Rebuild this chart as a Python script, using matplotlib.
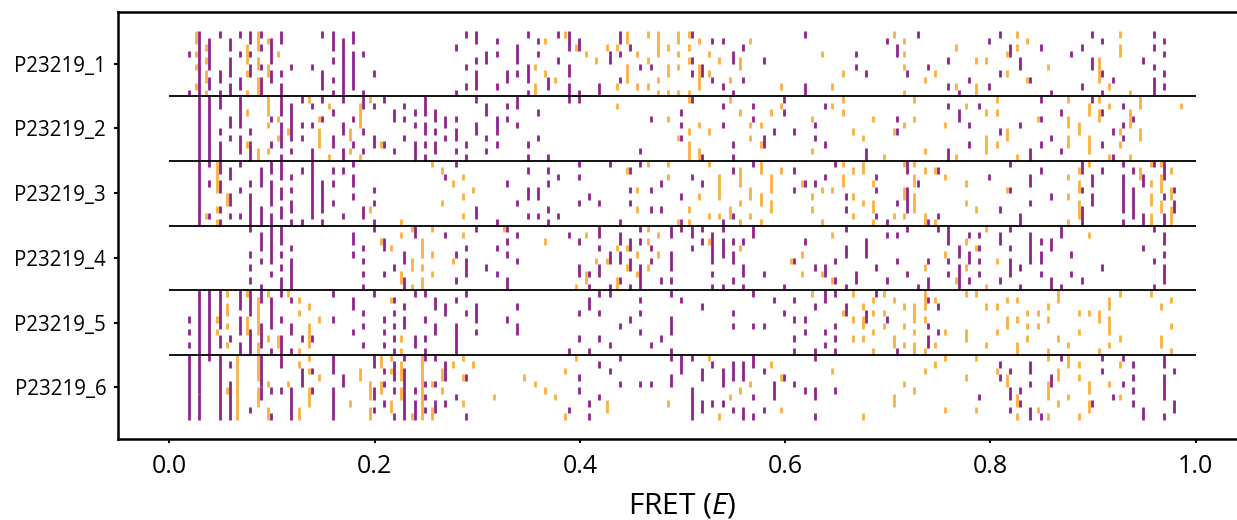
import matplotlib
matplotlib.use('Agg')
import matplotlib.pyplot as plt

# FRET values sit on a 0.01 grid, each row holds 10 repeat lanes
# every mark is (bin, first lane, last lane)
row_labels = ['P23219_1', 'P23219_2', 'P23219_3', 'P23219_4', 'P23219_5', 'P23219_6']
x_ticks = [0.0, 0.2, 0.4, 0.6, 0.8, 1.0]

row1_purple = [
    (1,3,3),(1,9,9),(2,0,9),(3,1,5),(3,7,8),(4,0,0),(4,6,7),(4,9,9),(5,1,2),(5,4,6),(5,8,9),
    (6,0,0),(6,3,3),(6,7,8),(7,0,1),(7,3,3),(7,5,6),(8,0,0),(8,2,2),(8,5,5),(8,7,9),(9,1,4),(9,6,7),
    (10,0,1),(10,6,6),(10,8,9),(11,5,5),(13,5,5),(14,0,0),(14,6,8),(15,0,2),(15,4,4),(15,7,7),(15,9,9),
    (16,1,9),(17,0,1),(17,3,8),(18,3,3),(18,9,9),(19,6,6),(27,2,2),(27,9,9),(28,0,0),(28,5,5),(28,8,8),
    (29,0,1),(29,4,4),(29,6,8),(30,3,4),(31,1,1),(31,3,3),(31,8,8),(32,6,7),(33,2,4),(33,6,6),
    (34,0,0),(34,5,7),(34,9,9),(35,1,1),(35,3,3),(36,7,8),(37,0,0),(37,4,4),(38,0,2),(38,5,6),(38,8,9),
    (39,1,2),(39,9,9),(41,8,9),(42,3,4),(43,0,1),(43,3,3),(43,7,7),(44,2,2),(45,5,5),(46,5,5),
    (50,0,0),(50,4,4),(50,6,6),(51,5,6),(52,1,1),(52,7,7),(53,1,1),(53,8,8),(54,3,4),(54,9,9),(55,2,2),(55,7,7),
    (57,4,4),(61,0,0),(61,8,9),(66,3,3),(66,5,5),(67,6,6),(69,1,1),(70,2,3),(71,6,6),(72,0,0),(73,5,5),
    (75,4,4),(75,8,8),(76,9,9),(77,7,7),(79,1,1),(79,8,8),(80,0,0),(80,6,6),(81,2,3),(82,4,5),(83,7,7),
    (84,2,2),(85,9,9),(87,3,3),(88,2,2),(88,8,8),(89,0,0),(89,4,5),(90,1,1),(90,6,6),(90,9,9),(91,7,7),
    (94,4,4),(95,0,0),(95,2,2),(95,5,5),(95,7,9),(96,1,1),(96,3,3),(96,6,6),(96,8,8),
]
row1_orange = [
    (2,0,1),(2,3,3),(2,5,5),(2,8,8),(3,2,2),(3,4,4),(3,6,7),(3,9,9),(7,2,4),(7,6,6),(7,9,9),
    (8,0,2),(8,4,5),(8,7,9),(9,1,1),(9,5,6),(10,3,3),(35,5,5),(35,8,9),(36,1,1),(36,6,6),(37,7,7),
    (38,0,0),(39,2,2),(40,3,3),(41,4,4),(42,2,2),(43,2,2),(43,8,8),(44,0,1),(44,5,7),(45,3,3),(45,8,8),
    (46,0,0),(46,4,4),(46,8,8),(47,0,3),(47,7,7),(47,9,9),(48,2,2),(48,5,6),(48,9,9),(49,0,1),(49,3,3),
    (49,5,5),(49,9,9),(50,0,0),(50,2,2),(50,4,4),(50,9,9),(51,1,1),(51,5,8),(52,3,3),(52,6,6),(53,4,4),
    (54,7,7),(55,4,5),(56,1,1),(59,8,8),(63,3,3),(64,8,8),(65,6,6),(70,0,0),(71,1,1),(71,3,3),(71,5,5),(71,9,9),
    (73,7,7),(74,6,6),(76,2,2),(76,8,8),(78,4,4),(78,8,9),(79,4,4),(81,3,3),(81,6,6),(82,0,0),(82,2,2),
    (83,1,1),(83,7,7),(85,5,5),(90,4,7),(91,8,8),(92,0,0),(92,2,3),(93,9,9),
]
row2_purple = [
    (2,0,9),(3,0,9),(4,0,1),(4,5,5),(4,7,9),(5,3,4),(5,6,6),(6,0,4),(6,6,8),(7,5,5),(7,7,9),
    (9,3,3),(9,7,7),(10,0,2),(10,4,7),(10,9,9),(11,1,6),(11,8,8),(12,0,0),(12,4,4),(12,6,6),
    (13,1,1),(13,4,4),(13,8,9),(14,0,0),(14,3,3),(15,2,2),(15,6,7),(16,0,0),(16,4,5),(16,8,9),
    (17,3,3),(17,7,7),(18,0,1),(18,5,5),(18,8,8),(19,1,1),(19,6,7),(20,0,0),(20,7,7),(21,2,3),(21,8,8),
    (22,1,1),(22,3,3),(22,6,6),(23,2,2),(23,4,4),(23,7,9),(24,0,2),(24,4,5),(24,7,7),(24,9,9),
    (25,2,3),(25,5,5),(25,7,8),(26,3,4),(26,6,6),(27,3,3),(27,5,6),(27,8,8),(28,7,7),(28,9,9),
    (29,0,0),(29,4,5),(30,1,2),(30,6,6),(30,8,8),(31,3,5),(31,7,7),(32,1,1),(32,3,3),(33,0,1),(33,4,4),
    (34,7,7),(34,9,9),(35,2,2),(35,6,6),(36,9,9),(38,0,0),(39,0,0),(45,8,8),(46,3,3),
    (49,2,2),(49,4,4),(49,6,6),(50,0,0),(51,9,9),(53,1,1),(53,4,4),(54,7,7),(54,9,9),(56,1,1),(56,3,3),
    (57,6,7),(58,5,5),(59,0,0),(59,2,2),(60,5,5),(62,4,4),(62,6,6),(63,1,1),(63,7,7),(67,8,9),
    (70,3,3),(70,5,5),(75,1,1),(75,8,9),(76,2,3),(77,4,4),(77,7,7),(78,1,1),(80,5,5),(82,4,4),
    (83,8,9),(84,0,0),(84,3,3),(84,7,7),(85,6,6),(86,2,2),(86,8,8),(89,0,0),(90,2,2),(90,7,7),
    (91,5,5),(91,9,9),(92,1,1),(92,4,4),(92,6,6),(93,3,3),
]
row2_orange = [
    (7,2,2),(7,7,7),(8,8,9),(9,0,2),(9,4,4),(9,8,8),(10,3,3),(10,6,6),(11,5,5),(13,0,0),
    (14,3,3),(14,5,7),(15,1,1),(15,9,9),(17,5,6),(17,8,8),(18,1,4),(18,9,9),(19,0,0),(20,7,7),
    (43,1,1),(48,3,3),(49,6,6),(50,0,0),(50,5,5),(50,7,9),(51,4,4),(51,8,9),(52,5,5),(54,0,0),
    (55,2,2),(56,4,4),(56,6,6),(57,4,4),(57,7,7),(58,2,2),(59,1,1),(62,3,3),(62,8,8),(64,1,1),
    (65,0,0),(65,2,2),(66,5,5),(67,6,6),(68,3,3),(69,9,9),(70,5,5),(71,4,4),(72,0,0),(72,3,3),
    (73,8,8),(75,4,4),(76,9,9),(77,1,1),(79,2,2),(79,6,8),(80,0,0),(80,2,2),(80,7,7),(81,5,6),
    (82,9,9),(84,3,3),(87,0,0),(87,3,4),(87,6,7),(88,4,5),(89,1,2),(89,6,8),(90,0,0),(90,2,3),
    (91,1,1),(91,9,9),(92,5,5),(92,7,7),(93,2,4),(93,9,9),(94,0,1),(94,5,6),(98,1,1),
]
row3_purple = [
    (2,0,9),(3,0,0),(3,3,3),(3,8,8),(4,0,1),(4,3,4),(4,7,7),(4,9,9),(5,1,2),(5,5,6),(5,8,8),
    (6,0,0),(6,4,4),(6,8,8),(7,3,3),(7,5,9),(8,1,3),(8,7,9),(9,0,1),(9,3,6),(9,8,9),(10,0,2),(10,4,5),(10,7,8),
    (11,2,2),(11,4,4),(11,6,7),(11,9,9),(12,1,1),(12,9,9),(13,0,8),(14,3,7),(14,9,9),(15,1,1),(15,3,3),(15,6,6),
    (16,1,1),(16,8,8),(17,0,0),(17,2,3),(17,5,5),(18,7,8),(19,4,4),(19,6,6),(19,9,9),(26,2,2),(27,0,0),
    (29,7,8),(31,9,9),(32,3,3),(33,6,6),(34,1,1),(34,4,5),(34,8,8),(35,4,5),(35,8,8),(36,1,1),(36,3,3),(36,7,7),(36,9,9),
    (37,2,2),(37,8,8),(39,0,0),(39,2,2),(39,6,6),(40,5,5),(41,6,6),(42,0,0),(43,9,9),(44,1,1),(44,4,4),(44,6,6),
    (45,0,0),(46,4,4),(46,7,7),(47,3,3),(47,7,7),(49,5,5),(49,9,9),
    (50,2,2),(51,3,3),(53,9,9),(54,1,1),(54,8,8),(56,0,0),(60,1,1),(60,4,4),(61,3,3),(62,3,3),(63,2,2),
    (64,0,0),(65,5,5),(65,7,7),(68,2,2),(68,4,4),(68,8,8),(69,9,9),(70,6,6),(71,0,1),(71,4,7),(72,3,3),
    (73,9,9),(74,1,1),(74,8,8),(79,2,2),(80,7,7),(81,0,0),(81,4,4),(82,8,9),(83,2,3),(83,6,6),(84,1,1),(85,5,5),
    (88,0,1),(88,4,4),(88,7,9),(89,2,3),(89,5,6),(90,1,1),(92,0,0),(92,2,7),(92,9,9),(93,1,1),(93,4,8),
    (94,2,3),(94,8,9),(95,0,0),(96,0,2),(96,5,5),(96,8,9),(97,4,4),(97,6,7),
]
row3_orange = [
    (3,8,8),(4,0,4),(4,7,7),(4,9,9),(5,5,6),(19,7,7),(22,9,9),(25,0,0),(26,1,1),(26,6,6),(27,3,3),
    (28,2,2),(28,5,5),(28,8,8),(29,4,4),(44,1,1),(45,4,4),(45,7,7),(46,0,0),(48,0,0),(48,2,2),
    (49,9,9),(50,7,7),(50,9,9),(51,5,5),(52,0,0),(52,8,8),(53,2,5),(53,8,8),(54,7,8),(55,1,3),(55,6,6),(55,9,9),
    (56,4,5),(56,8,8),(57,0,1),(57,5,6),(57,9,9),(58,2,4),(58,6,7),(59,1,1),(61,3,3),(62,5,5),(62,7,7),
    (63,4,4),(63,9,9),(64,4,4),(65,0,0),(65,2,3),(66,1,1),(66,5,5),(66,8,8),(67,0,1),(67,6,6),(68,3,3),(68,6,7),(68,9,9),
    (70,8,8),(71,0,0),(71,4,5),(71,8,8),(72,0,0),(72,2,3),(72,5,7),(73,1,1),(73,8,9),(74,1,1),(74,9,9),(75,2,2),
    (77,3,3),(77,6,6),(78,7,7),(81,4,4),(87,2,2),(87,5,5),(87,9,9),(88,1,1),(88,3,4),(88,6,8),(89,0,0),
    (94,1,2),(95,0,0),(95,3,3),(95,5,6),(95,8,9),(96,0,0),(96,2,4),(96,6,7),(97,1,1),(97,4,5),(97,7,9),
]
row4_purple = [
    (7,0,0),(7,4,4),(7,6,6),(7,8,8),(8,1,3),(8,5,5),(8,9,9),(9,0,5),(9,7,7),(10,0,2),(10,4,4),(10,6,6),(10,8,9),
    (11,3,3),(11,5,9),(17,1,2),(17,4,4),(18,3,3),(18,5,5),(18,7,7),(18,9,9),(19,0,0),(20,2,3),(20,7,7),
    (21,6,6),(22,4,5),(22,8,9),(23,0,1),(26,1,1),(27,4,4),(27,8,8),(28,3,3),(28,5,7),(29,0,0),(30,6,6),
    (31,3,3),(31,7,7),(32,0,0),(32,2,2),(32,4,4),(32,8,9),(33,1,1),(33,5,5),(38,1,1),(39,2,2),(39,6,7),
    (40,7,7),(40,9,9),(41,0,1),(41,3,3),(41,6,7),(42,4,5),(42,9,9),(43,1,2),(43,4,5),(43,8,8),(44,2,3),(44,5,6),(44,9,9),
    (45,0,0),(45,2,2),(45,6,9),(46,3,3),(46,5,5),(47,8,8),(48,0,1),(48,4,6),(48,8,8),(49,0,0),
    (50,0,1),(50,3,3),(51,0,0),(51,2,2),(52,1,5),(52,7,7),(52,9,9),(53,0,0),(53,2,4),(53,9,9),(54,2,2),(54,4,5),(54,8,8),
    (55,2,2),(55,6,7),(55,9,9),(56,0,1),(57,7,7),(59,9,9),(60,5,5),(61,2,2),(62,6,6),(63,6,7),(64,5,5),(64,8,8),
    (65,0,0),(65,3,4),(65,9,9),(66,7,8),(67,2,4),(68,6,6),(69,1,1),(69,8,8),(70,1,1),(70,5,5),(71,0,0),(71,7,7),
    (72,9,9),(73,5,5),(73,8,9),(74,0,0),(75,0,2),(75,5,5),(75,7,7),(76,3,4),(76,6,9),(77,1,1),(77,4,5),(77,8,8),
    (78,1,1),(78,3,3),(78,5,5),(78,7,7),(80,1,2),(80,8,8),(81,0,0),(81,3,3),(81,5,7),(82,6,6),(82,9,9),
    (83,1,5),(84,2,2),(84,4,5),(84,7,7),(85,2,3),(85,8,9),(86,0,1),(86,9,9),(87,4,4),(87,7,7),(88,8,8),
    (90,6,6),(94,3,3),(95,0,0),(95,5,5),(95,9,9),(96,1,2),(96,4,4),(96,6,8),
]
row4_orange = [
    (20,2,2),(21,3,3),(22,1,1),(22,7,8),(23,0,0),(23,5,6),(23,9,9),(24,2,4),(24,6,6),(24,8,9),(25,0,0),(25,4,4),(25,7,7),
    (27,5,5),(28,1,1),(32,0,0),(36,2,2),(39,9,9),(40,1,1),(40,7,8),(41,5,5),(42,5,5),(43,3,3),(43,8,9),
    (44,3,3),(44,6,6),(45,4,4),(45,7,7),(46,0,0),(46,2,2),(46,6,6),(47,1,1),(47,4,4),
    (52,2,2),(55,3,3),(60,5,5),(61,4,4),(61,7,7),(63,7,7),(64,1,1),(64,8,8),(73,6,6),(75,4,4),(76,8,8),
    (77,2,2),(77,6,6),(78,3,3),(79,0,0),(79,9,9),(80,5,5),(89,1,1),
]
row5_purple = [
    (1,4,4),(1,6,6),(1,8,8),(2,0,9),(3,0,9),(4,0,5),(4,7,8),(5,7,7),(6,0,2),(6,4,6),(6,8,9),(7,0,3),(7,6,9),
    (8,0,1),(8,5,8),(9,1,5),(9,9,9),(10,0,0),(10,4,4),(10,7,9),(11,1,1),(11,5,6),(11,9,9),(12,7,7),(13,7,7),
    (15,0,0),(15,4,4),(17,1,2),(17,6,6),(18,3,3),(18,5,5),(18,8,8),(19,0,0),(20,4,4),(20,6,6),(20,8,8),
    (21,1,1),(21,3,3),(21,5,5),(21,7,7),(21,9,9),(22,2,2),(22,4,5),(23,0,0),(23,7,8),(24,0,0),(24,4,4),(24,7,7),(24,9,9),
    (25,1,2),(25,5,6),(26,2,3),(27,1,1),(27,5,9),(28,0,0),(28,3,3),(29,2,4),(29,6,6),(32,4,4),(33,2,2),(33,5,6),
    (38,9,9),(39,3,3),(39,7,7),(40,1,2),(40,9,9),(41,0,0),(41,3,3),(41,7,7),(42,0,0),(42,8,8),(43,5,5),(44,4,4),
    (45,1,1),(45,3,3),(45,6,6),(46,8,8),(47,7,7),(48,0,0),(48,4,6),(48,9,9),(49,1,1),
    (51,2,2),(54,3,3),(54,5,5),(56,0,0),(56,5,5),(57,5,5),(58,1,1),(59,3,3),(60,1,1),(60,4,4),(60,7,7),(60,9,9),
    (61,4,4),(61,6,6),(62,2,2),(62,9,9),(63,0,1),(63,6,6),(63,8,8),(64,0,0),(64,5,5),(64,7,7),(64,9,9),
    (65,2,3),(67,3,4),(68,0,0),(69,4,4),(70,9,9),(73,1,1),(73,5,5),(73,7,8),(74,2,2),(74,6,6),
]
row5_orange = [
    (4,4,4),(4,6,6),(5,0,0),(5,2,3),(5,5,5),(5,8,8),(7,0,0),(7,4,6),(8,1,6),(8,8,9),(9,0,0),(9,7,7),
    (10,7,8),(11,0,0),(12,1,1),(12,3,3),(12,9,9),(13,2,2),(13,5,8),(14,4,4),(21,1,1),(22,7,7),(22,9,9),
    (62,0,0),(65,3,3),(66,0,0),(66,4,4),(66,7,7),(67,2,2),(67,4,5),(67,7,7),(68,1,1),(68,3,3),(68,6,6),(68,9,9),
    (69,0,0),(69,3,3),(69,5,5),(70,1,1),(70,7,8),(71,2,2),(71,5,5),(71,8,8),(72,2,4),(72,6,6),(72,8,9),
    (73,0,2),(73,4,4),(73,9,9),(74,1,1),(74,8,8),(75,6,6),(77,0,0),(77,6,7),(78,0,0),(79,2,2),(79,8,8),
    (80,2,2),(80,6,6),(81,1,1),(81,4,5),(82,1,1),(82,4,4),(82,8,9),(83,3,3),(83,5,5),(83,7,7),(84,3,3),(84,5,5),
    (85,2,2),(85,4,4),(85,9,9),(86,0,1),(86,7,7),(87,8,8),(88,3,3),(88,6,6),(89,3,3),(90,3,4),(90,9,9),
    (91,1,2),(91,4,6),(91,8,8),(92,0,0),(92,7,7),(95,0,0),(96,2,2),(96,7,8),(97,1,1),(97,5,5),(97,9,9),
]
row6_purple = [
    (1,0,9),(2,0,5),(2,6,9),(3,0,0),(4,0,9),(5,1,1),(5,4,9),(7,8,8),(8,0,4),(8,5,6),(9,5,5),(9,9,9),
    (10,0,1),(10,5,5),(11,5,9),(12,2,4),(13,2,2),(13,5,5),(15,0,2),(15,5,9),(16,3,4),(19,0,1),(19,5,6),(19,8,8),
    (20,2,2),(20,4,4),(20,7,7),(21,1,3),(21,5,5),(21,9,9),(22,0,0),(22,2,9),(23,5,5),(23,7,9),(24,0,0),(24,4,4),(24,6,6),(24,8,8),
    (25,0,0),(25,4,4),(25,7,8),(26,1,3),(26,7,7),(27,6,6),(28,3,3),(28,9,9),(38,8,8),(39,3,3),(39,5,5),
    (40,7,7),(40,9,9),(41,1,1),(41,6,6),(42,2,2),(43,0,0),(43,4,4),(45,4,4),(46,4,4),(48,0,0),(48,3,4),(49,0,2),
    (50,0,0),(50,5,9),(51,2,3),(51,7,8),(52,1,1),(52,7,7),(53,2,4),(53,7,7),(54,1,3),(54,8,8),(55,1,3),(55,8,9),
    (56,0,1),(56,6,6),(56,9,9),(57,2,2),(57,8,8),(58,4,6),(59,3,3),(60,4,4),(61,5,5),(62,0,0),(62,5,6),(62,9,9),(64,5,5),
    (78,6,6),(80,1,1),(80,3,3),(81,2,2),(81,5,6),(81,8,8),(82,5,5),(82,7,7),(83,1,2),(83,4,4),(83,8,9),(84,9,9),
    (85,3,4),(86,0,0),(89,7,7),(90,0,0),(90,2,2),(91,6,6),(92,0,0),(92,4,4),(93,1,1),(93,3,3),(93,5,5),(93,7,7),
    (94,8,9),(96,0,1),(96,3,6),(96,9,9),(97,2,2),(97,7,8),
]
row6_orange = [
    (5,5,5),(6,0,4),(6,5,9),(8,0,3),(8,5,7),(9,4,4),(9,8,9),(11,4,4),(12,1,1),(12,8,9),(13,0,0),(13,2,2),(13,5,7),(14,3,3),
    (17,7,7),(18,2,3),(19,4,6),(19,8,9),(20,0,1),(20,4,5),(21,0,0),(21,2,2),(21,7,8),(22,1,3),(22,5,6),(23,9,9),
    (24,0,9),(25,4,4),(25,8,9),(26,2,3),(26,5,5),(27,1,1),(28,0,0),(28,3,3),(28,7,7),(29,1,1),(31,6,6),(34,3,3),
    (35,4,4),(36,5,5),(37,6,6),(38,2,2),(38,9,9),(39,0,0),(42,7,8),(48,7,7),
    (52,0,0),(53,9,9),(54,6,6),(55,5,5),(56,4,4),(58,1,1),(59,3,3),(59,8,8),(64,2,2),(67,9,9),(70,6,7),(71,4,4),(72,5,5),
    (73,2,2),(74,1,1),(75,0,0),(75,8,8),(77,3,3),(78,0,0),(78,8,8),(80,2,2),(81,3,4),(82,6,7),(82,9,9),(84,8,8),
    (85,0,0),(85,4,6),(85,9,9),(86,2,3),(86,7,7),(87,0,1),(87,6,6),(88,1,1),(88,3,3),(88,9,9),(89,4,5),(89,7,8),
    (91,4,4),(92,1,1),(92,6,6),
]

purple_rows = [row1_purple, row2_purple, row3_purple, row4_purple, row5_purple, row6_purple]
orange_rows = [row1_orange, row2_orange, row3_orange, row4_orange, row5_orange, row6_orange]

PURPLE = '#91238C'
ORANGE = '#FBB040'


def draw_marks(ax, rows, offset, color):
    for row, marks in enumerate(rows):
        for b, first, last in marks:
            x = b / 100 + offset
            top = row - 0.5 + first * 0.1
            bottom = row - 0.5 + (last + 1) * 0.1
            ax.vlines(x, top, bottom, color=color, linewidth=2.0, capstyle='butt')


plt.rcParams['font.family'] = 'Open Sans'
plt.rcParams['mathtext.fontset'] = 'custom'
plt.rcParams['mathtext.it'] = 'Open Sans:italic'
plt.rcParams['mathtext.rm'] = 'Open Sans'

fig = plt.figure(figsize=(12.37, 5.2), dpi=100)
# right spine falls outside the saved picture, same as the reference crop
ax = fig.add_axes([118 / 1237, (520 - 439) / 520, (1247 - 118) / 1237, (439 - 12) / 520])

draw_marks(ax, orange_rows, 0.006, ORANGE)
draw_marks(ax, purple_rows, 0.009, PURPLE)

for i in range(len(row_labels) - 1):
    ax.hlines(i + 0.5, 0, 1, color='black', linewidth=1.3, zorder=5)

ax.set_xlim(-0.05, 1.05)
ax.set_ylim(5.8, -0.8)
ax.set_xticks(x_ticks)
ax.set_yticks(range(len(row_labels)))
ax.set_yticklabels(row_labels)
ax.tick_params(axis='x', labelsize=18, length=3, width=1.5, pad=8)
ax.tick_params(axis='y', labelsize=14.8, length=3, width=1.5, pad=5.5)
ax.set_xlabel('FRET ($E$)', fontsize=21.5, labelpad=9)
for side in ax.spines.values():
    side.set_linewidth(1.8)

fig.savefig('out.png', dpi=100)
